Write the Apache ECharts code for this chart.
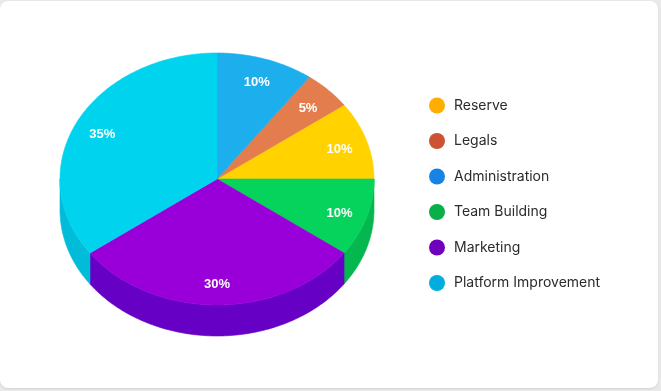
<!DOCTYPE html>
<html>
<head>
<meta charset="utf-8">
<script src="https://cdn.jsdelivr.net/npm/echarts@6/dist/echarts.min.js"></script>
<style>
html,body{margin:0;padding:0;width:661px;height:391px;overflow:hidden;background:#e9e9e9;}
#card{position:absolute;left:0;top:1px;width:658px;height:387px;background:#fff;border-radius:8px;box-shadow:0 1px 2px rgba(0,0,0,0.10);}
#chart{position:absolute;left:0;top:0;width:661px;height:391px;}
</style>
</head>
<body>
<div id="card"></div>
<div id="chart"></div>
<script>
// ---- data ----
var categories = ['Reserve', 'Legals', 'Administration', 'Team Building', 'Marketing', 'Platform Improvement'];
var values = [10, 5, 10, 10, 30, 35];
// clockwise arrangement of slices starting at 12 o'clock (indices into categories)
var sliceOrder = [2, 1, 0, 3, 4, 5];

// ---- styles ----
var legendColors = ['#FFAD00', '#CC5233', '#1783E4', '#09B04A', '#6E00BE', '#00AEDE'];
var topColors = ['#FFD200', '#E47D4E', '#1DAEEE', '#06D35C', '#9900D9', '#00D3EE'];
var sideColors = ['#E0B800', '#C96A3F', '#1894CC', '#04B74F', '#6600C4', '#00BCD9'];

var CX = 217, CY = 179, RX = 157, RY = 126, DEPTH = 31, LABEL_R = 0.82, LABEL_DY = 2;

var total = values.reduce(function (a, b) { return a + b; }, 0);
var startAngle = {};
(function () {
  var acc = 0;
  sliceOrder.forEach(function (ci) {
    startAngle[ci] = acc / total * 360;
    acc += values[ci];
  });
})();

function pt(deg, r, dy) {
  var t = deg * Math.PI / 180;
  return [CX + RX * r * Math.sin(t), CY - RY * r * Math.cos(t) + (dy || 0)];
}

function makeRender(ci) {
  return function (params, api) {
    var v = api.value(0);
    var a0 = startAngle[ci];
    var a1 = a0 + v / total * 360;
    var children = [];
    // side wall (front half: 90..270)
    var s0 = Math.max(a0, 90), s1 = Math.min(a1, 270);
    if (s1 > s0) {
      var pts = [], d;
      for (d = s0; d <= s1; d += 1) pts.push(pt(d, 1));
      pts.push(pt(s1, 1));
      for (d = s1; d >= s0; d -= 1) pts.push(pt(d, 1, DEPTH));
      pts.push(pt(s0, 1, DEPTH));
      children.push({
        type: 'polygon', shape: { points: pts },
        style: { fill: sideColors[ci], stroke: sideColors[ci], lineWidth: 0.6 }
      });
    }
    // top face
    var tp = [[CX, CY]];
    for (var e = a0; e <= a1; e += 1) tp.push(pt(e, 1));
    tp.push(pt(a1, 1));
    children.push({
      type: 'polygon', shape: { points: tp },
      style: { fill: topColors[ci], stroke: topColors[ci], lineWidth: 0.6 }
    });
    // label
    var lp = pt((a0 + a1) / 2, LABEL_R, LABEL_DY);
    children.push({
      type: 'text', x: lp[0], y: lp[1], z2: 10,
      style: {
        text: Math.round(v / total * 100) + '%',
        fill: '#ffffff',
        font: 'bold 13px "Liberation Sans", Arial, sans-serif',
        align: 'center', verticalAlign: 'middle'
      }
    });
    return { type: 'group', children: children };
  };
}

var series = categories.map(function (name, ci) {
  return {
    type: 'custom',
    name: name,
    coordinateSystem: 'none',
    itemStyle: { color: legendColors[ci] },
    data: [[values[ci]]],
    renderItem: makeRender(ci),
    silent: true
  };
});

var chart = echarts.init(document.getElementById('chart'), null, { renderer: 'canvas' });
chart.setOption({
  animation: false,
  backgroundColor: 'transparent',
  legend: {
    data: categories,
    orient: 'vertical',
    left: 429,
    top: 97.5,
    padding: 0,
    itemWidth: 16,
    itemHeight: 16,
    itemGap: 19.5,
    icon: 'circle',
    textStyle: {
      color: '#2b2b2b',
      fontSize: 14,
      fontFamily: 'Inter, "Open Sans", sans-serif',
      padding: [0, 0, 0, 4]
    }
  },
  series: series
});
</script>
</body>
</html>
